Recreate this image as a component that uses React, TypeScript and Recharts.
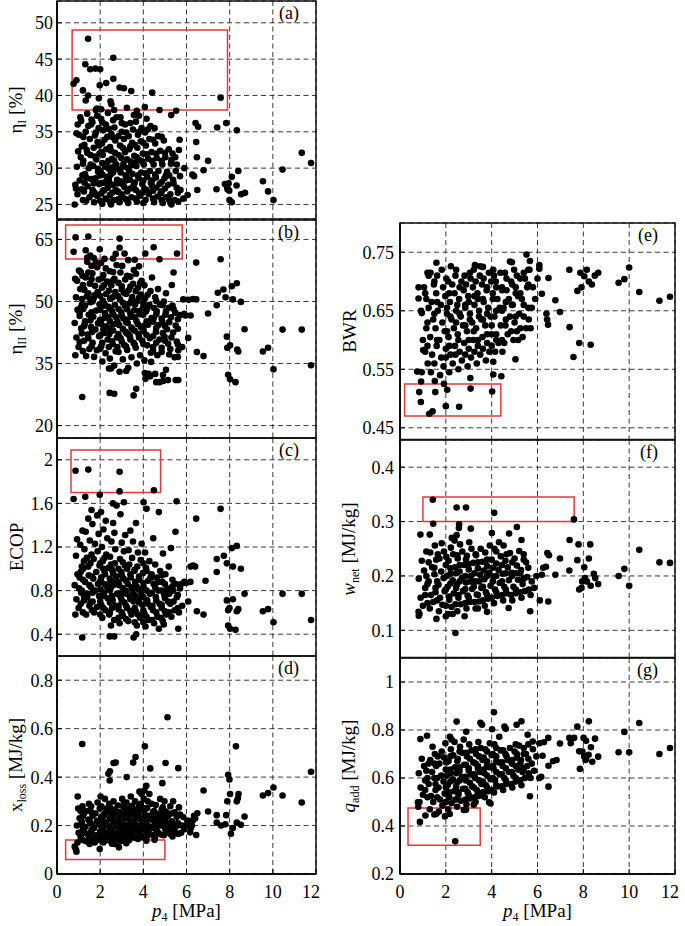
import React from 'react'
import { ScatterChart, Scatter, XAxis, YAxis, CartesianGrid, ReferenceArea } from 'recharts'

type Pt = [number, number]

const pressureTicks = [0, 2, 4, 6, 8, 10, 12]
const etaITicks = [25, 30, 35, 40, 45, 50]
const etaIITicks = [20, 35, 50, 65]
const ecopTicks = [0.4, 0.8, 1.2, 1.6, 2]
const xLossTicks = [0, 0.2, 0.4, 0.6, 0.8]
const bwrTicks = [0.45, 0.55, 0.65, 0.75]
const wNetTicks = [0.1, 0.2, 0.3, 0.4]
const qAddTicks = [0.2, 0.4, 0.6, 0.8, 1]

// highlighted regions (x range in MPa, y range in panel units)
const etaIBox = { x: [0.7, 7.9], y: [38, 49] }
const etaIIBox = { x: [0.4, 5.8], y: [60.3, 68.5] }
const ecopBox = { x: [0.65, 4.8], y: [1.7, 2.09] }
const xLossBox = { x: [0.4, 5.0], y: [0.06, 0.14] }
const bwrBox = { x: [0.2, 4.4], y: [0.47, 0.525] }
const wNetBox = { x: [1.0, 7.6], y: [0.3, 0.345] }
const qAddBox = { x: [0.35, 3.5], y: [0.32, 0.475] }

// (a) first-law efficiency [%] vs p4
const etaIPoints: Pt[] = [
  [1.44,47.8],[0.77,41.6],[0.9,42.1],[1.31,44.3],[1.54,43.6],[1.78,43.7],[2.0,43.6],[2.61,45.2],[2.61,42.3],[2.28,41.7],[1.98,41.4],[1.2,40.7],[1.44,40.0],[1.33,39.3],[1.94,39.6],[2.48,39.2],[2.52,38.8],[2.9,41.1],[3.1,41.0],[3.44,40.6],[4.41,40.4],[7.58,39.7],[1.85,38.2],[2.05,38.1],[2.65,38.0],[3.24,38.3],[3.7,37.9],[4.07,38.4],[4.75,38.0],[5.29,37.3],[5.52,37.9],
  [6.42,36.2],[6.54,35.7],[7.42,35.6],[7.84,36.2],[8.33,35.2],[6.45,33.6],[6.48,31.5],[6.27,29.1],[6.35,28.9],[7.0,31.0],[6.79,29.7],[6.5,27.0],[7.39,27.1],[7.78,27.8],[7.88,27.4],[7.95,27.9],[8.1,28.8],[7.9,27.1],[7.98,26.9],[8.4,29.6],[8.32,27.6],[8.53,26.4],[8.71,26.6],[7.99,25.6],[8.1,25.3],[9.54,28.2],[9.78,26.8],[10.03,25.6],[10.45,29.8],[11.34,32.1],[11.77,30.7],
  [0.82,25.0],[0.95,26.4],[0.85,27.7],[1.05,28.3],[0.92,30.2],[1.1,31.5],[0.98,32.3],[1.15,33.0],[0.9,34.8],[1.02,34.6],[1.12,36.5],[1.08,37.0],[0.96,36.0],[1.18,29.0],[0.88,27.2],
  [1.35,25.5],[1.5,26.0],[1.25,26.8],[1.42,27.5],[1.58,28.5],[1.3,29.2],[1.47,30.0],[1.22,31.0],[1.55,31.8],[1.38,32.5],[1.27,33.2],[1.52,34.0],[1.33,35.0],[1.45,35.8],[1.6,36.7],[1.4,37.5],[1.56,30.5],[1.28,28.0],
  [1.72,25.3],[1.85,26.2],[1.65,27.0],[1.95,27.8],[1.78,28.6],[1.9,29.5],[1.68,30.3],[1.82,31.2],[1.97,32.0],[1.7,32.8],[1.88,33.6],[1.76,34.5],[1.93,35.5],[1.64,36.3],[1.86,37.2],[1.8,38.0],[1.99,29.0],[1.74,26.6],
  [2.1,25.1],[2.25,25.8],[2.05,26.5],[2.35,27.3],[2.18,28.0],[2.3,28.8],[2.02,29.5],[2.22,30.2],[2.38,31.0],[2.12,31.8],[2.28,32.6],[2.08,33.4],[2.33,34.3],[2.15,35.2],[2.26,36.0],[2.04,36.8],[2.36,37.6],[2.2,27.0],[2.4,29.9],[2.1,30.7],
  [2.5,25.0],[2.65,25.6],[2.45,26.3],[2.72,27.0],[2.58,27.7],[2.78,28.4],[2.48,29.1],[2.62,29.8],[2.75,30.5],[2.55,31.3],[2.68,32.1],[2.46,32.9],[2.7,33.8],[2.52,34.7],[2.66,35.6],[2.6,36.6],[2.76,37.0],[2.42,28.0],[2.8,26.8],[2.57,30.1],
  [2.9,25.3],[3.05,26.0],[2.85,26.7],[3.12,27.4],[2.95,28.2],[3.18,29.0],[2.88,29.8],[3.08,30.6],[2.98,31.4],[3.15,32.2],[2.92,33.1],[3.1,34.0],[3.0,35.0],[3.16,36.0],[2.94,37.0],[3.02,27.8],[3.2,25.7],
  [3.3,25.2],[3.45,26.0],[3.25,26.8],[3.55,27.6],[3.38,28.4],[3.5,29.2],[3.28,30.0],[3.42,30.9],[3.58,31.7],[3.35,32.6],[3.48,33.5],[3.32,34.4],[3.52,35.3],[3.4,36.2],[3.56,37.3],[3.22,28.8],
  [3.7,25.4],[3.85,26.2],[3.65,27.0],[3.95,27.8],[3.78,28.6],[3.9,29.4],[3.68,30.3],[3.82,31.1],[3.98,32.0],[3.72,32.8],[3.88,33.7],[3.75,34.6],[3.92,35.5],[3.66,36.4],[3.8,37.2],[3.96,26.6],
  [4.1,25.6],[4.25,26.4],[4.05,27.2],[4.35,28.0],[4.18,28.8],[4.3,29.6],[4.02,30.5],[4.22,31.3],[4.38,32.2],[4.12,33.1],[4.28,34.0],[4.08,34.9],[4.33,35.8],[4.15,36.8],[4.4,27.6],
  [4.5,25.3],[4.65,26.1],[4.45,26.9],[4.75,27.8],[4.58,28.7],[4.7,29.6],[4.48,30.5],[4.62,31.4],[4.78,32.4],[4.55,33.4],[4.68,34.4],[4.52,35.5],[4.8,26.5],
  [4.9,25.2],[5.05,26.0],[4.85,26.8],[5.15,27.7],[4.98,28.6],[5.1,29.5],[4.88,30.5],[5.02,31.5],[5.18,32.6],[4.95,33.8],[5.2,25.6],
  [5.3,25.0],[5.45,25.6],[5.25,26.4],[5.55,27.3],[5.38,28.4],[5.5,29.6],[5.28,30.6],[5.48,31.5],[5.35,32.0],[5.68,33.9],
  [5.62,25.4],[5.85,25.8],[6.05,26.3],[5.72,27.0],[5.7,28.9],[5.9,30.0],
  [1.2,25.6],[1.62,26.4],[1.15,27.1],[1.7,27.9],[1.35,28.7],[1.9,29.9],[1.2,30.6],[1.75,31.6],[1.4,32.1],[1.95,33.1],[1.22,34.3],[1.8,34.9],[1.58,36.0],
  [2.0,25.5],[2.45,25.4],[2.15,26.9],[2.55,26.6],[2.0,27.9],[2.4,28.5],[2.1,29.1],[2.6,29.4],[2.3,30.6],[2.65,31.0],[2.05,32.2],[2.5,32.4],[2.2,33.9],[2.6,34.2],[2.4,35.4],[2.1,36.3],
  [2.85,25.7],[3.25,25.6],[3.0,26.4],[3.4,27.2],[2.8,27.9],[3.2,28.3],[2.95,29.4],[3.35,29.6],[3.05,30.2],[3.45,30.4],[2.85,31.8],[3.25,31.2],[3.05,32.8],[3.4,33.0],[2.85,34.4],[3.2,34.9],[3.0,36.2],
  [3.65,25.8],[4.0,25.2],[3.8,26.6],[4.15,27.0],[3.6,28.0],[4.0,28.3],[3.75,29.0],[4.1,29.3],[3.6,30.7],[3.95,30.9],[3.7,31.5],[4.15,31.9],[3.6,33.2],[4.0,33.5],[3.8,35.0],[4.2,35.3],
  [4.45,25.8],[4.85,25.6],[4.6,27.3],[5.0,27.2],[4.4,28.3],[4.85,28.1],[4.55,29.1],[5.05,29.0],[4.4,31.0],[4.85,31.0],[4.6,32.0],[5.0,32.1],[4.45,33.9],[4.85,34.3],
  [5.25,25.3],[5.6,26.6],[5.4,27.9],[5.2,29.0],[5.55,30.5],[5.3,31.1],[5.65,32.5]
]

// (b) second-law efficiency [%] vs p4
const etaIIPoints: Pt[] = [
  [0.86,65.5],[1.45,65.7],[2.9,65.2],[0.77,62.0],[1.33,62.4],[1.54,61.1],[1.98,62.6],[2.72,61.5],[2.9,63.0],[3.13,61.6],[4.09,61.6],[4.48,63.1],[4.75,60.2],[5.56,61.6],[1.4,60.6],[1.7,60.5],[2.2,60.3],[2.6,60.4],[3.3,60.0],[3.6,60.1],
  [6.45,59.4],[7.58,60.2],[7.45,52.1],[7.71,52.9],[8.1,53.7],[8.33,54.4],[7.81,51.0],[8.15,50.5],[8.52,49.9],[7.4,49.1],[7.0,47.1],[6.3,50.6],[6.45,50.5],[6.1,50.4],[8.69,43.3],[7.87,41.5],[7.89,38.8],[8.02,39.4],[8.35,38.4],[8.4,37.9],[9.54,37.9],[9.78,38.8],[10.03,33.6],[10.45,43.2],[11.34,43.2],[11.77,34.6],[7.93,32.3],[8.02,31.2],[8.27,30.5],[6.48,37.8],[6.79,36.8],[6.08,41.2],[6.19,46.6],
  [1.17,26.9],[2.44,27.9],[2.65,27.7],[3.55,27.3],[3.67,28.9],[3.21,33.2],[2.41,33.8],[4.07,32.7],[4.32,31.9],[4.36,35.4],[4.75,30.5],[4.91,32.2],[5.14,31.0],[5.62,31.0],[5.6,36.6],
  [0.85,37.0],[1.0,39.0],[0.9,41.3],[1.12,43.5],[0.82,44.8],[1.05,46.5],[0.95,48.0],[1.15,49.2],[0.88,51.0],[1.08,53.0],[0.93,55.0],[1.18,56.2],[1.02,57.5],[0.84,55.5],[1.1,48.5],
  [1.35,36.8],[1.5,38.5],[1.25,40.5],[1.42,42.0],[1.58,43.8],[1.3,45.2],[1.47,46.8],[1.22,48.2],[1.55,49.8],[1.38,51.2],[1.27,52.8],[1.52,54.3],[1.33,55.8],[1.45,57.0],[1.6,58.6],[1.4,59.6],[1.56,50.5],[1.28,44.5],
  [1.72,36.6],[1.85,38.2],[1.65,40.0],[1.95,41.6],[1.78,43.2],[1.9,44.7],[1.68,46.3],[1.82,47.8],[1.97,49.3],[1.7,50.8],[1.88,52.3],[1.76,53.8],[1.93,55.3],[1.64,56.8],[1.86,58.3],[1.8,59.4],[1.99,45.5],[1.74,51.5],
  [2.1,35.5],[2.25,37.5],[2.05,39.2],[2.35,40.8],[2.18,42.4],[2.3,44.0],[2.02,45.6],[2.22,47.2],[2.38,48.7],[2.12,50.2],[2.28,51.8],[2.08,53.3],[2.33,54.8],[2.15,56.4],[2.26,58.0],[2.04,59.3],[2.36,46.3],[2.2,49.5],
  [2.5,33.8],[2.65,34.5],[2.45,36.2],[2.72,38.0],[2.58,39.7],[2.78,41.3],[2.48,42.9],[2.62,44.5],[2.75,46.1],[2.55,47.7],[2.68,49.2],[2.46,50.7],[2.7,52.3],[2.52,53.9],[2.66,55.5],[2.6,57.1],[2.76,58.8],[2.42,43.6],
  [2.9,33.0],[3.05,36.0],[2.85,37.8],[3.12,39.5],[2.95,41.1],[3.18,42.7],[2.88,44.3],[3.08,45.9],[2.98,47.4],[3.15,48.9],[2.92,50.5],[3.1,52.1],[3.0,53.7],[3.16,55.3],[2.94,57.0],[3.02,58.6],[3.2,45.0],
  [3.3,34.0],[3.45,36.5],[3.25,38.3],[3.55,40.0],[3.38,41.6],[3.5,43.2],[3.28,44.8],[3.42,46.3],[3.58,47.9],[3.35,49.5],[3.48,51.1],[3.32,52.7],[3.52,54.3],[3.4,56.0],[3.56,57.6],[3.22,42.4],
  [3.7,35.0],[3.85,37.0],[3.65,38.8],[3.95,40.5],[3.78,42.1],[3.9,43.7],[3.68,45.3],[3.82,46.9],[3.98,48.5],[3.72,50.1],[3.88,51.7],[3.75,53.3],[3.92,55.0],[3.66,56.7],[3.8,58.5],[3.96,44.0],
  [4.1,31.3],[4.25,32.5],[4.05,35.8],[4.35,37.6],[4.18,39.4],[4.3,41.1],[4.02,42.8],[4.22,44.4],[4.38,46.0],[4.12,47.6],[4.28,49.2],[4.08,50.8],[4.33,52.5],[4.4,55.8],[4.15,48.0],
  [4.6,30.5],[4.55,32.5],[4.65,37.0],[4.45,39.0],[4.75,40.8],[4.58,42.6],[4.7,44.3],[4.48,46.0],[4.62,47.6],[4.78,49.2],[4.55,51.0],[4.68,53.0],
  [4.92,30.8],[5.05,33.5],[4.85,37.8],[5.15,39.8],[4.98,41.5],[5.1,43.3],[4.88,45.0],[5.02,46.8],[5.18,48.5],[4.95,50.0],[5.05,52.0],
  [5.5,31.0],[5.45,36.5],[5.25,38.5],[5.55,40.3],[5.38,42.5],[5.5,44.2],[5.28,46.2],[5.48,47.3],[5.35,49.0],[5.32,54.0],[5.4,57.0],
  [5.62,38.2],[5.8,39.0],[5.7,46.7],[5.9,47.0],[5.95,46.6],[5.85,50.5],
  [1.2,38.0],[1.6,39.2],[1.05,40.2],[1.45,41.1],[1.15,42.3],[1.62,42.6],[1.25,44.0],[1.55,45.4],[1.05,47.3],[1.6,47.4],[1.3,49.0],[1.65,50.0],[1.15,50.6],[1.45,52.0],[1.2,54.0],[1.6,55.4],[1.1,57.1],
  [2.0,38.6],[2.4,39.0],[2.1,40.0],[2.55,40.4],[2.0,41.8],[2.42,42.1],[2.15,43.3],[2.6,43.0],[2.05,44.6],[2.45,45.3],[2.2,46.0],[2.62,46.8],[2.0,48.0],[2.45,48.3],[2.15,49.0],[2.58,51.0],[2.0,51.4],[2.4,52.6],[2.18,53.9],[2.6,55.1],[2.1,55.6],[2.45,57.3],
  [2.8,39.0],[3.2,39.1],[3.0,40.3],[3.4,40.8],[2.85,42.1],[3.3,42.0],[3.05,43.4],[3.45,43.7],[2.8,45.1],[3.22,45.6],[3.0,46.6],[3.4,47.1],[2.85,48.2],[3.25,48.1],[3.05,49.7],[3.45,50.3],[2.82,51.3],[3.2,51.8],[3.0,52.9],[3.4,53.6],[2.85,54.5],[3.25,56.2],
  [3.6,39.6],[4.0,39.7],[3.8,41.3],[4.15,41.9],[3.6,42.9],[4.0,43.6],[3.75,44.5],[4.15,45.2],[3.6,46.2],[4.0,46.8],[3.8,47.7],[4.2,48.6],[3.62,49.3],[4.0,49.6],[3.8,50.9],[4.2,51.6],[3.65,52.5],[4.05,53.9],[3.85,54.4],
  [4.45,38.0],[4.85,38.8],[4.6,40.0],[5.0,40.5],[4.45,41.6],[4.9,42.4],[4.6,43.6],[5.0,44.1],[4.45,45.1],[4.85,45.9],[4.6,46.9],[5.05,47.6],[4.5,48.4],[4.9,49.1],[4.6,50.1],
  [5.2,37.2],[5.6,39.6],[5.3,41.3],[5.6,43.4],[5.2,45.0],[5.6,45.7],[5.4,48.2]
]

// (c) ECOP vs p4
const ecopPoints: Pt[] = [
  [0.86,1.9],[1.45,1.91],[2.9,1.89],[2.9,1.71],[4.49,1.72],[0.77,1.64],[1.31,1.66],[1.98,1.68],[2.59,1.6],[3.1,1.61],[4.01,1.61],[4.15,1.55],[4.72,1.52],[5.54,1.62],[6.45,1.46],[7.58,1.55],[5.49,1.34],[5.28,1.19],[4.46,1.28],[4.91,1.14],
  [7.4,1.09],[7.73,1.12],[8.1,1.19],[8.33,1.21],[7.4,0.97],[7.87,1.05],[8.15,1.02],[8.52,1.0],[6.19,1.02],[6.4,1.02],[6.3,1.03],[6.88,0.89],[6.18,0.88],[5.98,0.87],[8.69,0.77],[7.87,0.71],[7.99,0.64],[7.93,0.62],[8.15,0.72],[8.33,0.61],[8.4,0.63],[9.54,0.61],[9.78,0.63],[10.03,0.51],[10.45,0.77],[11.34,0.77],[11.77,0.53],[7.93,0.48],[8.02,0.45],[8.27,0.44],[6.48,0.61],[6.79,0.58],[6.08,0.7],[5.6,0.64],[5.62,0.45],[4.72,0.45],[4.95,0.49],
  [1.17,0.37],[2.44,0.38],[2.65,0.38],[3.55,0.37],[3.67,0.4],
  [0.85,0.58],[1.0,0.64],[0.9,0.72],[1.12,0.78],[0.82,0.85],[1.05,0.92],[0.95,0.95],[1.15,1.02],[0.88,1.12],[1.08,1.22],[0.93,1.27],[1.18,1.35],[1.02,0.82],
  [1.35,0.58],[1.5,0.66],[1.25,0.71],[1.42,0.77],[1.58,0.83],[1.3,0.88],[1.47,0.94],[1.22,1.0],[1.55,1.05],[1.38,1.1],[1.27,1.18],[1.52,1.26],[1.33,1.34],[1.45,1.46],[1.6,1.54],[1.4,0.74],
  [1.72,0.6],[1.85,0.65],[1.65,0.7],[1.95,0.75],[1.78,0.8],[1.9,0.86],[1.68,0.91],[1.82,0.97],[1.97,1.03],[1.7,1.09],[1.88,1.16],[1.76,1.23],[1.93,1.32],[1.64,1.41],[1.86,1.49],[1.99,0.88],
  [2.1,0.55],[2.25,0.62],[2.05,0.67],[2.35,0.73],[2.18,0.78],[2.3,0.84],[2.02,0.89],[2.22,0.95],[2.38,1.01],[2.12,1.07],[2.28,1.13],[2.08,1.2],[2.33,1.28],[2.15,1.36],[2.26,1.44],[2.04,1.52],[2.36,0.81],[2.2,0.98],
  [2.5,0.48],[2.65,0.53],[2.45,0.6],[2.72,0.66],[2.58,0.71],[2.78,0.77],[2.48,0.82],[2.62,0.88],[2.75,0.93],[2.55,0.99],[2.68,1.05],[2.46,1.11],[2.7,1.18],[2.52,1.25],[2.66,1.33],[2.6,1.42],[2.76,1.58],[2.42,0.86],
  [2.9,0.5],[3.05,0.57],[2.85,0.63],[3.12,0.69],[2.95,0.74],[3.18,0.8],[2.88,0.85],[3.08,0.91],[2.98,0.97],[3.15,1.03],[2.92,1.09],[3.1,1.16],[3.0,1.24],[3.16,1.31],[2.94,1.5],[3.02,0.77],
  [3.3,0.52],[3.45,0.58],[3.25,0.64],[3.55,0.7],[3.38,0.75],[3.5,0.8],[3.28,0.86],[3.42,0.92],[3.58,0.98],[3.35,1.04],[3.48,1.1],[3.32,1.17],[3.52,1.25],[3.4,1.35],[3.56,0.72],
  [3.7,0.48],[3.85,0.55],[3.65,0.61],[3.95,0.67],[3.78,0.73],[3.9,0.78],[3.68,0.84],[3.82,0.9],[3.98,0.96],[3.72,1.02],[3.88,1.08],[3.75,1.15],[3.92,1.23],[3.66,1.42],[3.8,0.81],
  [4.1,0.47],[4.25,0.53],[4.05,0.59],[4.35,0.65],[4.18,0.71],[4.3,0.77],[4.02,0.83],[4.22,0.89],[4.38,0.95],[4.12,1.01],[4.28,1.07],[4.08,1.15],[4.33,0.92],
  [4.5,0.5],[4.65,0.56],[4.45,0.62],[4.75,0.68],[4.58,0.74],[4.7,0.8],[4.48,0.86],[4.62,0.92],[4.78,0.98],[4.55,1.04],[4.68,0.88],
  [4.9,0.52],[5.05,0.58],[4.85,0.64],[5.15,0.7],[4.98,0.76],[5.1,0.82],[4.88,0.88],[5.02,0.95],[5.18,1.02],[4.95,0.78],
  [5.3,0.56],[5.45,0.62],[5.25,0.68],[5.55,0.74],[5.38,0.8],[5.5,0.86],[5.35,0.9],
  [5.65,0.6],[5.8,0.66],[5.7,0.82],[5.9,0.88],[5.75,0.86],
  [1.2,0.6],[1.62,0.62],[1.1,0.68],[1.55,0.69],[1.25,0.75],[1.65,0.78],[1.15,0.8],[1.5,0.85],[1.2,0.9],[1.62,0.93],[1.1,0.97],[1.45,1.02],[1.25,1.07],[1.6,1.13],
  [2.0,0.58],[2.42,0.58],[2.15,0.64],[2.55,0.64],[2.0,0.7],[2.45,0.69],[2.15,0.75],[2.55,0.75],[2.02,0.81],[2.45,0.8],[2.2,0.86],[2.6,0.85],[2.05,0.92],[2.45,0.91],[2.15,1.0],[2.6,0.96],[2.0,1.05],[2.5,1.04],[2.2,1.1],
  [2.85,0.55],[3.2,0.54],[3.0,0.6],[3.4,0.61],[2.85,0.66],[3.2,0.66],[3.0,0.71],[3.4,0.72],[2.85,0.77],[3.22,0.77],[3.05,0.82],[3.45,0.83],[2.85,0.88],[3.2,0.89],[3.0,0.94],[3.4,0.95],[2.85,1.0],[3.25,1.0],[3.05,1.06],
  [3.6,0.51],[4.0,0.51],[3.75,0.58],[4.15,0.56],[3.6,0.64],[4.0,0.62],[3.8,0.69],[4.2,0.68],[3.6,0.76],[4.0,0.74],[3.75,0.82],[4.15,0.8],[3.62,0.88],[4.0,0.87],[3.8,0.93],[4.15,0.98],[3.6,0.99],[4.0,1.05],
  [4.4,0.53],[4.8,0.55],[4.6,0.6],[5.0,0.61],[4.42,0.66],[4.85,0.67],[4.6,0.71],[5.0,0.73],[4.4,0.78],[4.85,0.8],[4.55,0.83],[5.0,0.86],[4.4,0.92],[4.85,0.94],
  [5.2,0.6],[5.6,0.62],[5.4,0.7],[5.2,0.77],[5.6,0.76],[5.35,0.84]
]

// (d) exergy loss [MJ/kg] vs p4
const xLossPoints: Pt[] = [
  [1.17,0.537],[5.12,0.647],[4.07,0.527],[8.29,0.527],[2.38,0.414],[2.45,0.424],[2.62,0.458],[2.72,0.46],[2.44,0.386],[3.23,0.4],[3.53,0.46],[3.64,0.483],[4.32,0.436],[5.03,0.458],[5.62,0.437],[4.88,0.375],[4.14,0.364],[4.05,0.345],[3.92,0.33],
  [6.79,0.345],[7.0,0.258],[7.93,0.41],[7.99,0.39],[8.02,0.33],[8.38,0.313],[8.33,0.3],[8.41,0.33],[7.89,0.3],[7.84,0.243],[8.33,0.212],[8.52,0.203],[8.69,0.237],[8.15,0.19],[8.06,0.166],[7.4,0.243],[7.4,0.212],[7.6,0.2],[7.8,0.205],[9.54,0.324],[9.78,0.334],[10.03,0.357],[10.45,0.324],[11.34,0.295],[11.77,0.422],
  [0.96,0.32],[0.82,0.113],[0.9,0.092],[0.88,0.1],[1.51,0.124],[1.98,0.103],[2.67,0.124],[2.87,0.11],[3.21,0.127],[4.14,0.137],[4.52,0.141],[6.5,0.251],[6.3,0.222],[6.45,0.161],[6.17,0.172],[6.05,0.22],
  [0.95,0.13],[1.1,0.15],[1.0,0.17],[1.2,0.185],[0.92,0.2],[1.15,0.215],[1.05,0.23],[1.25,0.25],[0.98,0.27],[1.18,0.28],
  [1.35,0.135],[1.5,0.15],[1.4,0.165],[1.6,0.18],[1.32,0.195],[1.55,0.21],[1.45,0.225],[1.65,0.24],[1.38,0.26],[1.58,0.28],[1.48,0.29],
  [1.75,0.13],[1.9,0.145],[1.8,0.16],[2.0,0.175],[1.72,0.19],[1.95,0.205],[1.85,0.22],[2.05,0.235],[1.78,0.25],[1.98,0.27],[1.88,0.295],[2.02,0.32],
  [2.15,0.13],[2.3,0.145],[2.2,0.16],[2.4,0.172],[2.12,0.185],[2.35,0.2],[2.25,0.213],[2.45,0.227],[2.18,0.24],[2.38,0.255],[2.28,0.27],[2.42,0.29],[2.22,0.31],
  [2.55,0.125],[2.7,0.14],[2.6,0.155],[2.8,0.168],[2.52,0.18],[2.75,0.195],[2.65,0.208],[2.85,0.222],[2.58,0.236],[2.78,0.25],[2.68,0.266],[2.82,0.283],[2.62,0.3],
  [2.95,0.135],[3.1,0.15],[3.0,0.163],[3.2,0.176],[2.92,0.19],[3.15,0.203],[3.05,0.217],[3.25,0.23],[2.98,0.245],[3.18,0.26],[3.08,0.276],[3.22,0.295],[3.02,0.31],
  [3.35,0.14],[3.5,0.155],[3.4,0.168],[3.6,0.18],[3.32,0.193],[3.55,0.207],[3.45,0.22],[3.65,0.235],[3.38,0.25],[3.58,0.265],[3.48,0.282],[3.62,0.3],[3.42,0.32],
  [3.75,0.145],[3.9,0.16],[3.8,0.173],[4.0,0.186],[3.72,0.2],[3.95,0.213],[3.85,0.227],[4.05,0.242],[3.78,0.257],[3.98,0.273],[3.88,0.29],[4.02,0.31],[3.82,0.34],
  [4.15,0.15],[4.3,0.165],[4.2,0.18],[4.4,0.195],[4.12,0.21],[4.35,0.225],[4.25,0.24],[4.45,0.256],[4.18,0.272],[4.38,0.29],[4.28,0.33],
  [4.55,0.155],[4.7,0.17],[4.6,0.186],[4.8,0.2],[4.52,0.216],[4.75,0.232],[4.65,0.248],[4.85,0.265],[4.58,0.285],[4.78,0.31],
  [4.95,0.16],[5.1,0.175],[5.0,0.19],[5.2,0.206],[4.92,0.222],[5.15,0.24],[5.05,0.258],[5.25,0.28],[4.98,0.3],
  [5.35,0.155],[5.5,0.17],[5.4,0.186],[5.6,0.2],[5.32,0.218],[5.55,0.236],[5.45,0.255],[5.65,0.275],[5.38,0.3],
  [5.75,0.17],[5.9,0.185],[5.8,0.2],[6.05,0.215],[5.85,0.235],[6.1,0.22],
  [6.25,0.2],[6.4,0.23],[6.35,0.24],
  [1.2,0.14],[1.62,0.145],[1.1,0.16],[1.55,0.17],[1.25,0.175],[1.65,0.2],[1.15,0.205],[1.5,0.22],[1.2,0.24],[1.6,0.255],[1.1,0.26],
  [2.0,0.14],[2.42,0.138],[2.1,0.155],[2.55,0.15],[2.0,0.168],[2.45,0.165],[2.15,0.178],[2.55,0.175],[2.02,0.2],[2.45,0.19],[2.2,0.205],[2.6,0.215],[2.05,0.222],[2.5,0.24],[2.2,0.25],[2.6,0.26],[2.05,0.28],[2.45,0.275],
  [2.85,0.145],[3.25,0.145],[3.0,0.158],[3.4,0.16],[2.85,0.172],[3.2,0.17],[3.05,0.184],[3.45,0.186],[2.85,0.2],[3.22,0.196],[3.0,0.21],[3.4,0.213],[2.85,0.226],[3.25,0.24],[3.0,0.236],[3.4,0.245],[2.9,0.255],[3.3,0.27],[3.1,0.29],
  [3.62,0.15],[4.0,0.152],[3.8,0.165],[4.15,0.172],[3.62,0.178],[4.05,0.195],[3.8,0.19],[4.2,0.2],[3.6,0.21],[4.0,0.22],[3.75,0.24],[4.2,0.23],[3.62,0.25],[4.05,0.26],[3.8,0.28],[4.2,0.3],
  [4.45,0.16],[4.85,0.162],[4.62,0.178],[5.05,0.18],[4.45,0.19],[4.85,0.21],[4.6,0.208],[5.05,0.215],[4.45,0.23],[4.88,0.245],[4.65,0.225],[5.0,0.232],[4.5,0.26],[4.9,0.275],
  [5.25,0.165],[5.62,0.165],[5.45,0.18],[5.2,0.19],[5.6,0.21],[5.35,0.2],[5.7,0.245],[5.3,0.25],[6.0,0.2],[6.2,0.19]
]

// (e) back work ratio vs p4
const bwrPoints: Pt[] = [
  [0.91,0.494],[1.28,0.474],[1.42,0.478],[2.0,0.487],[2.58,0.486],[1.54,0.511],[0.84,0.511],[2.06,0.515],[3.08,0.517],[4.02,0.512],[0.92,0.529],
  [6.48,0.706],[6.08,0.722],[6.19,0.679],[6.39,0.645],[6.46,0.626],[6.42,0.635],[6.78,0.668],[6.98,0.648],[7.4,0.622],[7.39,0.72],[7.57,0.571],[7.82,0.595],[8.32,0.592],[7.74,0.684],[7.92,0.69],[8.04,0.709],[7.87,0.715],[8.24,0.7],[8.5,0.71],[8.65,0.715],[8.15,0.72],[8.37,0.695],[9.54,0.698],[9.79,0.704],[10.0,0.724],[10.44,0.682],[11.32,0.667],[11.78,0.674],
  [1.59,0.732],[2.22,0.726],[3.27,0.728],[3.49,0.726],[4.07,0.72],[4.8,0.734],[4.88,0.733],[5.52,0.746],[5.67,0.735],[5.6,0.72],[6.08,0.728],[1.2,0.715],[1.33,0.715],[0.81,0.69],[0.81,0.671],[0.95,0.646],[1.01,0.583],[0.75,0.546],[1.21,0.56],[4.07,0.541],[4.42,0.538],[3.07,0.535],[4.47,0.58],[5.04,0.567],[5.16,0.6],[5.7,0.62],[4.07,0.563],
  [0.95,0.545],[1.1,0.58],[1.0,0.6],[1.2,0.63],[0.92,0.65],[1.15,0.67],[1.05,0.69],[1.25,0.71],
  [1.35,0.545],[1.5,0.56],[1.4,0.575],[1.6,0.59],[1.32,0.605],[1.55,0.62],[1.45,0.635],[1.65,0.65],[1.38,0.665],[1.58,0.68],[1.48,0.695],[1.62,0.71],[1.52,0.53],
  [1.75,0.54],[1.9,0.555],[1.8,0.57],[2.0,0.585],[1.72,0.6],[1.95,0.615],[1.85,0.63],[2.05,0.645],[1.78,0.66],[1.98,0.675],[1.88,0.69],[2.02,0.705],[1.82,0.72],[1.92,0.525],
  [2.15,0.545],[2.3,0.56],[2.2,0.575],[2.4,0.59],[2.12,0.605],[2.35,0.62],[2.25,0.635],[2.45,0.65],[2.18,0.665],[2.38,0.68],[2.28,0.695],[2.42,0.71],
  [2.55,0.55],[2.7,0.565],[2.6,0.58],[2.8,0.595],[2.52,0.61],[2.75,0.625],[2.65,0.64],[2.85,0.655],[2.58,0.67],[2.78,0.685],[2.68,0.7],[2.82,0.71],
  [2.95,0.555],[3.1,0.57],[3.0,0.585],[3.2,0.6],[2.92,0.615],[3.15,0.63],[3.05,0.645],[3.25,0.66],[2.98,0.675],[3.18,0.69],[3.08,0.705],[3.22,0.72],
  [3.35,0.56],[3.5,0.575],[3.4,0.59],[3.6,0.605],[3.32,0.62],[3.55,0.635],[3.45,0.65],[3.65,0.665],[3.38,0.68],[3.58,0.695],[3.48,0.71],[3.62,0.725],
  [3.75,0.565],[3.9,0.58],[3.8,0.595],[4.0,0.61],[3.72,0.625],[3.95,0.64],[3.85,0.655],[4.05,0.67],[3.78,0.685],[3.98,0.7],[3.88,0.715],
  [4.15,0.58],[4.3,0.595],[4.2,0.61],[4.4,0.625],[4.12,0.64],[4.35,0.655],[4.25,0.67],[4.45,0.685],[4.18,0.7],[4.38,0.715],
  [4.55,0.595],[4.7,0.61],[4.6,0.625],[4.8,0.64],[4.52,0.655],[4.75,0.67],[4.65,0.685],[4.85,0.7],[4.58,0.715],
  [4.95,0.6],[5.1,0.615],[5.0,0.63],[5.2,0.645],[4.92,0.66],[5.15,0.675],[5.05,0.69],[5.25,0.705],[4.98,0.72],
  [5.35,0.605],[5.5,0.62],[5.4,0.64],[5.6,0.655],[5.32,0.67],[5.55,0.69],[5.45,0.705],[5.65,0.72],
  [5.75,0.655],[5.9,0.67],[5.8,0.69],[6.0,0.705],
  [1.2,0.59],[1.62,0.6],[1.15,0.62],[1.5,0.645],[1.25,0.655],[1.62,0.665],[1.1,0.68],[1.5,0.7],
  [2.0,0.57],[2.42,0.575],[2.15,0.59],[2.55,0.6],[2.05,0.615],[2.45,0.63],[2.2,0.64],[2.6,0.645],[2.05,0.655],[2.5,0.66],[2.15,0.68],[2.6,0.69],[2.1,0.7],[2.45,0.72],
  [2.85,0.575],[3.25,0.58],[3.0,0.6],[3.4,0.6],[2.85,0.625],[3.22,0.615],[3.05,0.635],[3.45,0.64],[2.85,0.66],[3.25,0.675],[3.0,0.665],[3.4,0.67],[2.88,0.695],[3.3,0.7],[3.05,0.715],
  [3.62,0.585],[4.0,0.59],[3.8,0.61],[4.2,0.6],[3.62,0.635],[4.0,0.625],[3.8,0.645],[4.2,0.65],[3.62,0.67],[4.05,0.68],[3.8,0.69],[4.2,0.69],[3.65,0.705],[4.1,0.71],
  [4.45,0.6],[4.85,0.615],[4.62,0.635],[5.05,0.64],[4.45,0.65],[4.88,0.66],[4.62,0.665],[5.05,0.68],[4.45,0.69],[4.9,0.695],[4.65,0.705],[5.1,0.71],
  [5.25,0.62],[5.62,0.635],[5.4,0.66],[5.25,0.68],[5.6,0.695],[5.4,0.715]
]

// (f) net work [MJ/kg] vs p4
const wNetPoints: Pt[] = [
  [1.43,0.34],[2.47,0.326],[2.88,0.326],[4.11,0.316],[7.59,0.304],[1.45,0.296],[2.58,0.295],[2.57,0.288],[3.09,0.287],[4.01,0.279],[4.76,0.278],[5.1,0.29],[0.89,0.276],[1.3,0.276],[2.26,0.27],[2.47,0.275],[5.3,0.266],
  [6.43,0.242],[6.5,0.238],[6.37,0.217],[6.25,0.215],[6.19,0.202],[6.47,0.153],[6.1,0.155],[5.68,0.135],[6.78,0.202],[6.98,0.232],[7.4,0.266],[7.39,0.21],[7.79,0.258],[8.3,0.258],[7.74,0.229],[8.24,0.232],[8.04,0.216],[8.07,0.196],[7.95,0.19],[8.46,0.204],[8.52,0.196],[8.65,0.185],[8.32,0.182],[7.82,0.175],[7.92,0.178],[8.15,0.19],[9.54,0.2],[9.79,0.213],[10.0,0.182],[10.44,0.248],[11.32,0.225],[11.78,0.224],
  [2.42,0.095],[0.82,0.127],[0.81,0.134],[1.59,0.121],[2.0,0.126],[2.3,0.13],[2.82,0.126],[4.74,0.141],[3.8,0.134],[3.4,0.14],
  [0.85,0.13],[1.0,0.145],[0.9,0.16],[1.1,0.178],[0.82,0.195],[1.05,0.21],[0.95,0.228],[1.15,0.245],
  [1.3,0.14],[1.45,0.152],[1.35,0.165],[1.55,0.178],[1.25,0.19],[1.5,0.203],[1.4,0.216],[1.58,0.23],[1.32,0.243],[1.52,0.256],
  [1.7,0.135],[1.85,0.147],[1.75,0.16],[1.95,0.172],[1.68,0.184],[1.9,0.196],[1.8,0.208],[2.0,0.22],[1.72,0.232],[1.92,0.245],[1.82,0.26],
  [2.1,0.13],[2.25,0.143],[2.15,0.156],[2.35,0.168],[2.08,0.18],[2.3,0.192],[2.2,0.204],[2.4,0.216],[2.12,0.228],[2.32,0.24],[2.22,0.252],[2.38,0.265],
  [2.5,0.135],[2.65,0.148],[2.55,0.16],[2.75,0.172],[2.48,0.184],[2.7,0.196],[2.6,0.208],[2.8,0.22],[2.52,0.232],[2.72,0.245],[2.62,0.258],
  [2.9,0.14],[3.05,0.152],[2.95,0.164],[3.15,0.176],[2.88,0.188],[3.1,0.2],[3.0,0.212],[3.2,0.224],[2.92,0.237],[3.12,0.25],[3.02,0.262],
  [3.3,0.14],[3.45,0.153],[3.35,0.166],[3.55,0.178],[3.28,0.19],[3.5,0.202],[3.4,0.214],[3.6,0.226],[3.32,0.238],[3.52,0.25],
  [3.7,0.145],[3.85,0.158],[3.75,0.17],[3.95,0.182],[3.68,0.194],[3.9,0.206],[3.8,0.218],[4.0,0.23],[3.72,0.243],[3.92,0.256],
  [4.1,0.15],[4.25,0.163],[4.15,0.175],[4.35,0.187],[4.08,0.199],[4.3,0.211],[4.2,0.223],[4.4,0.236],[4.12,0.25],[4.32,0.262],
  [4.5,0.155],[4.65,0.168],[4.55,0.18],[4.75,0.192],[4.48,0.204],[4.7,0.216],[4.6,0.228],[4.8,0.242],[4.52,0.256],
  [4.9,0.155],[5.05,0.168],[4.95,0.18],[5.15,0.193],[4.88,0.206],[5.1,0.219],[5.0,0.232],[5.2,0.246],
  [5.3,0.16],[5.45,0.172],[5.35,0.185],[5.55,0.198],[5.28,0.211],[5.5,0.225],[5.4,0.24],
  [5.7,0.165],[5.85,0.178],[5.75,0.19],[5.95,0.2],
  [1.2,0.15],[1.62,0.155],[1.1,0.165],[1.55,0.17],[1.2,0.185],[1.62,0.19],[1.15,0.2],[1.5,0.215],[1.25,0.225],[1.65,0.24],
  [2.0,0.145],[2.42,0.148],[2.15,0.162],[2.55,0.165],[2.0,0.175],[2.45,0.178],[2.2,0.186],[2.6,0.19],[2.05,0.2],[2.45,0.205],[2.2,0.214],[2.6,0.22],[2.02,0.235],[2.5,0.238],
  [2.85,0.15],[3.25,0.152],[3.0,0.16],[3.4,0.165],[2.85,0.176],[3.22,0.18],[3.05,0.19],[3.45,0.19],[2.85,0.2],[3.25,0.205],[3.0,0.222],[3.4,0.225],[2.88,0.23],[3.3,0.24],
  [3.62,0.155],[4.0,0.16],[3.8,0.165],[4.2,0.17],[3.62,0.18],[4.05,0.19],[3.8,0.2],[4.2,0.2],[3.65,0.21],[4.05,0.215],[3.8,0.23],[4.2,0.245],
  [4.45,0.165],[4.85,0.165],[4.62,0.175],[5.05,0.175],[4.45,0.19],[4.88,0.2],[4.62,0.205],[5.05,0.205],[4.45,0.22],[4.9,0.225],[4.65,0.24],
  [5.25,0.17],[5.62,0.175],[5.4,0.195],[5.25,0.205],[5.6,0.215],[5.4,0.23]
]

// (g) heat addition [MJ/kg] vs p4
const qAddPoints: Pt[] = [
  [2.41,0.336],[0.87,0.417],[1.11,0.444],[0.78,0.499],[0.8,0.48],[1.96,0.44],[2.17,0.45],[1.59,0.451],[1.5,0.448],[2.79,0.467],[2.88,0.468],[3.22,0.489],[3.89,0.499],[3.95,0.494],
  [0.89,0.762],[1.18,0.776],[2.47,0.835],[2.18,0.772],[2.25,0.76],[2.89,0.793],[3.51,0.83],[3.58,0.822],[4.1,0.874],[4.02,0.803],[4.56,0.814],[4.62,0.805],[5.09,0.822],[5.3,0.836],[4.33,0.772],[5.05,0.74],[5.57,0.78],[5.79,0.752],[6.08,0.745],[6.28,0.749],[6.47,0.767],[6.98,0.744],
  [7.39,0.767],[7.45,0.745],[7.74,0.814],[7.6,0.767],[8.01,0.767],[8.12,0.755],[8.24,0.836],[8.51,0.764],[8.33,0.728],[8.23,0.697],[8.39,0.668],[8.65,0.689],[7.82,0.711],[7.96,0.71],[8.04,0.69],[8.1,0.675],[7.85,0.638],[8.12,0.68],
  [6.48,0.564],[5.67,0.524],[6.08,0.6],[6.16,0.605],[6.48,0.651],[6.83,0.675],[6.68,0.67],[6.22,0.693],[9.54,0.707],[9.79,0.792],[10.0,0.707],[10.44,0.829],[11.32,0.7],[11.78,0.725],
  [0.85,0.5],[1.0,0.53],[0.9,0.56],[1.1,0.59],[0.82,0.62],[1.05,0.65],[0.95,0.68],
  [1.3,0.47],[1.45,0.5],[1.35,0.525],[1.55,0.55],[1.25,0.575],[1.5,0.6],[1.4,0.625],[1.58,0.65],[1.32,0.675],[1.52,0.7],[1.42,0.73],
  [1.7,0.46],[1.85,0.485],[1.75,0.51],[1.95,0.535],[1.68,0.56],[1.9,0.585],[1.8,0.61],[2.0,0.635],[1.72,0.66],[1.92,0.685],[1.82,0.71],[1.98,0.745],
  [2.1,0.47],[2.25,0.495],[2.15,0.52],[2.35,0.545],[2.08,0.57],[2.3,0.595],[2.2,0.62],[2.4,0.645],[2.12,0.67],[2.32,0.695],[2.22,0.72],[2.38,0.75],
  [2.5,0.48],[2.65,0.505],[2.55,0.53],[2.75,0.555],[2.48,0.58],[2.7,0.605],[2.6,0.63],[2.8,0.655],[2.52,0.68],[2.72,0.705],[2.62,0.73],[2.78,0.76],
  [2.9,0.49],[3.05,0.515],[2.95,0.54],[3.15,0.565],[2.88,0.59],[3.1,0.615],[3.0,0.64],[3.2,0.665],[2.92,0.69],[3.12,0.715],[3.02,0.74],
  [3.3,0.5],[3.45,0.525],[3.35,0.55],[3.55,0.575],[3.28,0.6],[3.5,0.625],[3.4,0.65],[3.6,0.675],[3.32,0.7],[3.52,0.725],[3.42,0.75],
  [3.7,0.52],[3.85,0.545],[3.75,0.57],[3.95,0.595],[3.68,0.62],[3.9,0.645],[3.8,0.67],[4.0,0.695],[3.72,0.72],[3.92,0.745],
  [4.1,0.54],[4.25,0.565],[4.15,0.59],[4.35,0.615],[4.08,0.64],[4.3,0.665],[4.2,0.69],[4.4,0.715],[4.12,0.74],
  [4.5,0.55],[4.65,0.575],[4.55,0.6],[4.75,0.625],[4.48,0.65],[4.7,0.675],[4.6,0.7],[4.8,0.725],
  [4.9,0.56],[5.05,0.585],[4.95,0.61],[5.15,0.635],[4.88,0.66],[5.1,0.685],[5.0,0.71],[5.2,0.735],
  [5.3,0.57],[5.45,0.6],[5.35,0.625],[5.55,0.65],[5.28,0.675],[5.5,0.7],[5.4,0.725],
  [5.7,0.6],[5.85,0.63],[5.75,0.66],[5.95,0.69],[5.8,0.72],
  [1.2,0.52],[1.62,0.52],[1.1,0.55],[1.55,0.575],[1.2,0.6],[1.62,0.6],[1.15,0.63],[1.5,0.66],[1.25,0.66],[1.65,0.69],
  [2.0,0.5],[2.42,0.51],[2.15,0.54],[2.55,0.54],[2.0,0.56],[2.45,0.565],[2.2,0.585],[2.6,0.59],[2.05,0.61],[2.45,0.62],[2.2,0.635],[2.6,0.645],[2.02,0.665],[2.5,0.67],[2.2,0.69],[2.6,0.71],
  [2.85,0.51],[3.25,0.52],[3.0,0.53],[3.4,0.54],[2.85,0.555],[3.22,0.56],[3.05,0.58],[3.45,0.59],[2.85,0.605],[3.25,0.615],[3.0,0.63],[3.4,0.64],[2.88,0.655],[3.3,0.66],[3.05,0.68],[3.45,0.69],[2.9,0.705],[3.3,0.72],
  [3.62,0.54],[4.0,0.55],[3.8,0.56],[4.2,0.57],[3.62,0.585],[4.05,0.6],[3.8,0.61],[4.2,0.625],[3.65,0.635],[4.05,0.65],[3.8,0.655],[4.2,0.67],[3.65,0.685],[4.05,0.7],[3.8,0.71],[4.2,0.725],
  [4.45,0.565],[4.85,0.575],[4.62,0.59],[5.05,0.6],[4.45,0.615],[4.88,0.625],[4.62,0.64],[5.05,0.65],[4.45,0.665],[4.9,0.675],[4.65,0.69],[5.1,0.7],[4.5,0.715],
  [5.25,0.59],[5.62,0.62],[5.4,0.64],[5.25,0.66],[5.6,0.68],[5.4,0.7],[5.6,0.74]
]

const SERIF = '"Liberation Serif", "Times New Roman", serif'
const RED = '#e2393a'

const Dot = (props: any) => <circle cx={props.cx} cy={props.cy} r={3.3} fill="#000" />

type Box = { x: number[]; y: number[] }

type PanelProps = {
  left: number
  top: number
  width: number
  plotHeight: number
  yAxisWidth: number
  tickGap: number
  bottomAxis?: boolean
  domain: [number, number]
  ticks: number[]
  points: Pt[]
  box: Box
  tag: string
  title: React.ReactNode
  titleX: number
}

const sub = (s: string) => (
  <span style={{ fontSize: 12, position: 'relative', top: 4 }}>{s}</span>
)

function Panel(p: PanelProps) {
  const axisH = p.bottomAxis ? 54 : 0
  const height = 2 + p.plotHeight + (p.bottomAxis ? 0 : 2) + axisH
  const rows = p.points.map(([x, y]) => ({ x, y }))
  const plotLeft = p.yAxisWidth
  const plotRight = p.width - 4
  return (
    <div style={{ position: 'absolute', left: p.left, top: p.top, width: p.width, height }}>
      <ScatterChart
        width={p.width}
        height={height}
        margin={{ top: 2, right: 4, bottom: p.bottomAxis ? 0 : 2, left: 0 }}
      >
        <CartesianGrid stroke="#222" strokeDasharray="5 3.5" strokeWidth={0.9} />
        <XAxis
          type="number"
          dataKey="x"
          domain={[0, 12]}
          ticks={pressureTicks}
          hide={!p.bottomAxis}
          height={axisH}
          axisLine={{ stroke: '#000', strokeWidth: 1.6 }}
          tickLine={{ stroke: '#000' }}
          tickSize={-5}
          tickMargin={16}
          tick={{ fontSize: 18, fontFamily: SERIF, fill: '#000' }}
          allowDataOverflow
        />
        <YAxis
          type="number"
          dataKey="y"
          domain={p.domain}
          ticks={p.ticks}
          width={p.yAxisWidth}
          axisLine={{ stroke: '#000', strokeWidth: 1.6 }}
          tickLine={{ stroke: '#000' }}
          tickSize={-5}
          tickMargin={5 + p.tickGap}
          tick={{ fontSize: 18, fontFamily: SERIF, fill: '#000' }}
          allowDataOverflow
        />
        <ReferenceArea
          x1={0}
          x2={12}
          y1={p.domain[0]}
          y2={p.domain[1]}
          fill="none"
          fillOpacity={0}
          stroke="#111"
          strokeWidth={1.5}
        />
        <ReferenceArea
          x1={p.box.x[0]}
          x2={p.box.x[1]}
          y1={p.box.y[0]}
          y2={p.box.y[1]}
          fill="none"
          fillOpacity={0}
          stroke={RED}
          strokeWidth={1.5}
        />
        <Scatter data={rows} shape={Dot} isAnimationActive={false} />
      </ScatterChart>
      <div
        style={{
          position: 'absolute',
          left: plotRight - 17,
          top: 5,
          transform: 'translateX(-100%)',
          fontFamily: SERIF,
          fontSize: 18,
          lineHeight: '18px',
          whiteSpace: 'nowrap'
        }}
      >
        {p.tag}
      </div>
      <div
        style={{
          position: 'absolute',
          left: p.titleX,
          top: 2 + p.plotHeight / 2,
          transform: 'translate(-50%, -50%) rotate(-90deg)',
          fontFamily: SERIF,
          fontSize: 19,
          lineHeight: '20px',
          whiteSpace: 'nowrap'
        }}
      >
        {p.title}
      </div>
      {p.bottomAxis && (
        <div
          style={{
            position: 'absolute',
            left: (plotLeft + plotRight) / 2,
            top: 2 + p.plotHeight + 27,
            transform: 'translateX(-50%)',
            fontFamily: SERIF,
            fontSize: 19,
            lineHeight: '20px',
            whiteSpace: 'nowrap'
          }}
        >
          <i>p</i>
          {sub('4')} [MPa]
        </div>
      )}
    </div>
  )
}

export default function App() {
  return (
    <div style={{ position: 'absolute', left: 0, top: 0, width: 685, height: 926, background: '#fff' }}>
      <Panel left={0} top={-1} width={320} plotHeight={218} yAxisWidth={57} tickGap={4}
        domain={[23, 53]} ticks={etaITicks} points={etaIPoints} box={etaIBox} tag="(a)" titleX={17}
        title={<>η{sub('I')} [%]</>} />
      <Panel left={0} top={218} width={320} plotHeight={218} yAxisWidth={57} tickGap={4}
        domain={[17, 69.7]} ticks={etaIITicks} points={etaIIPoints} box={etaIIBox} tag="(b)" titleX={17}
        title={<>η{sub('II')} [%]</>} />
      <Panel left={0} top={436} width={320} plotHeight={218} yAxisWidth={57} tickGap={4}
        domain={[0.2, 2.2]} ticks={ecopTicks} points={ecopPoints} box={ecopBox} tag="(c)" titleX={17}
        title={<>ECOP</>} />
      <Panel left={0} top={654} width={320} plotHeight={218} yAxisWidth={57} tickGap={4} bottomAxis
        domain={[0, 0.9]} ticks={xLossTicks} points={xLossPoints} box={xLossBox} tag="(d)" titleX={17}
        title={<>x{sub('loss')} [MJ/kg]</>} />
      <Panel left={330} top={221} width={349} plotHeight={216.5} yAxisWidth={70} tickGap={6}
        domain={[0.43, 0.8]} ticks={bwrTicks} points={bwrPoints} box={bwrBox} tag="(e)" titleX={20}
        title={<>BWR</>} />
      <Panel left={330} top={438} width={349} plotHeight={217.5} yAxisWidth={70} tickGap={6}
        domain={[0.05, 0.45]} ticks={wNetTicks} points={wNetPoints} box={wNetBox} tag="(f)" titleX={20}
        title={<><i>w</i>{sub('net')} [MJ/kg]</>} />
      <Panel left={330} top={655.5} width={349} plotHeight={216} yAxisWidth={70} tickGap={6} bottomAxis
        domain={[0.2, 1.1]} ticks={qAddTicks} points={qAddPoints} box={qAddBox} tag="(g)" titleX={20}
        title={<><i>q</i>{sub('add')} [MJ/kg]</>} />
    </div>
  )
}
